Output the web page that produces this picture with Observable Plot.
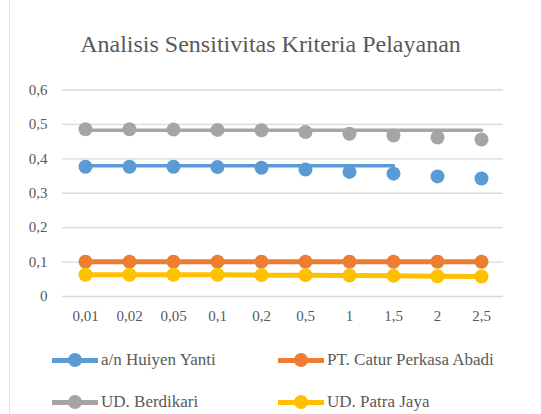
<!DOCTYPE html>
<html><head><meta charset="utf-8">
<script src="https://cdn.jsdelivr.net/npm/d3@7"></script>
<script src="https://cdn.jsdelivr.net/npm/@observablehq/plot@0.6"></script>
</head>
<body style="margin:0;background:#fff;font-family:'Liberation Serif'">
<div id="wrap" style="position:relative;width:541px;height:414px;overflow:hidden;font-family:'Liberation Serif';color:#595959">
<div style="position:absolute;left:9px;top:0;width:1px;height:414px;background:#e6e6e6"></div>
<div id="chart" style="position:absolute;left:0;top:0"></div>
<div id="title" style="position:absolute;left:0;width:541px;top:31px;text-align:center;font-size:24px;line-height:1.15;white-space:nowrap;font-family:'Liberation Serif'">Analisis Sensitivitas Kriteria Pelayanan</div>
<div id="legend"></div>
</div>
<script>
const categories = ["0,01","0,02","0,05","0,1","0,2","0,5","1","1,5","2","2,5"];
const seriesNames = ["a/n Huiyen Yanti","PT. Catur Perkasa Abadi","UD. Berdikari","UD. Patra Jaya"];
const colors = ["#5B9BD5","#ED7D31","#A5A5A5","#FFC000"];
const huiyen    = [0.377,0.377,0.377,0.376,0.374,0.369,0.362,0.357,0.349,0.343];
const catur     = [0.101,0.101,0.101,0.101,0.101,0.101,0.101,0.101,0.101,0.101];
const berdikari = [0.486,0.486,0.485,0.484,0.483,0.478,0.473,0.468,0.462,0.456];
const patra     = [0.063,0.063,0.063,0.063,0.062,0.062,0.061,0.060,0.059,0.058];
// line segments as drawn in the reference
const huiyenLine    = [0.380,0.380,0.380,0.380,0.380,0.380,0.380,0.380];
const berdikariLine = [0.483,0.483,0.483,0.483,0.483,0.483,0.483,0.483,0.483,0.483];
const yTicks = [0,0.1,0.2,0.3,0.4,0.5,0.6];

const pts = [];
[huiyen,catur,berdikari,patra].forEach((arr,i)=>arr.forEach((v,j)=>pts.push({s:seriesNames[i],x:categories[j],y:v})));
const thin = [], thick = [];
huiyenLine.forEach((v,j)=>thin.push({s:seriesNames[0],x:categories[j],y:v}));
berdikariLine.forEach((v,j)=>thin.push({s:seriesNames[2],x:categories[j],y:v}));
catur.forEach((v,j)=>thick.push({s:seriesNames[1],x:categories[j],y:v}));
patra.forEach((v,j)=>thick.push({s:seriesNames[3],x:categories[j],y:v}));

const fmt = d => d===0 ? "0" : d3.format(".1f")(d).replace(".",",");
const font = "Liberation Serif";
const plot = Plot.plot({
  width:541, height:335,
  marginTop:89.5, marginBottom:39, marginLeft:62, marginRight:38,
  style:{fontFamily:font, fontSize:"15px", color:"#595959", background:"transparent", overflow:"visible"},
  x:{type:"point", domain:categories, padding:0.5, label:null},
  y:{domain:[0,0.6], label:null},
  color:{domain:seriesNames, range:colors},
  marks:[
    Plot.ruleY(yTicks,{stroke:"#d9d9d9", strokeWidth:1.3}),
    Plot.axisY({ticks:yTicks, tickFormat:fmt, tickSize:0, tickPadding:15, fill:"#595959", fontSize:15, fontFamily:font, label:null}),
    Plot.axisX({tickSize:0, tickPadding:14, fill:"#595959", fontSize:15, fontFamily:font, label:null}),
    Plot.line(thin,{x:"x",y:"y",z:"s",stroke:"s",strokeWidth:3.5}),
    Plot.line(thick,{x:"x",y:"y",z:"s",stroke:"s",strokeWidth:5}),
    Plot.dot(pts,{x:"x",y:"y",fill:"s",r:7,stroke:null})
  ]
});
document.getElementById("chart").appendChild(plot);

const leg = document.getElementById("legend");
const pos = [[52,351],[278,351],[52,393],[278,393]];
seriesNames.forEach((n,i)=>{
  const d = document.createElement("div");
  d.style.cssText = `position:absolute;left:${pos[i][0]}px;top:${pos[i][1]}px;height:18px;font-size:17px;display:flex;align-items:center;white-space:nowrap;font-family:'Liberation Serif'`;
  d.innerHTML = `<div style="position:relative;width:46px;height:14px;margin-right:3px"><div style="position:absolute;left:0;right:0;top:5px;height:4.5px;background:${colors[i]}"></div><div style="position:absolute;left:16px;top:0;width:14px;height:14px;border-radius:50%;background:${colors[i]}"></div></div><span>${n}</span>`;
  leg.appendChild(d);
});
</script></body></html>
